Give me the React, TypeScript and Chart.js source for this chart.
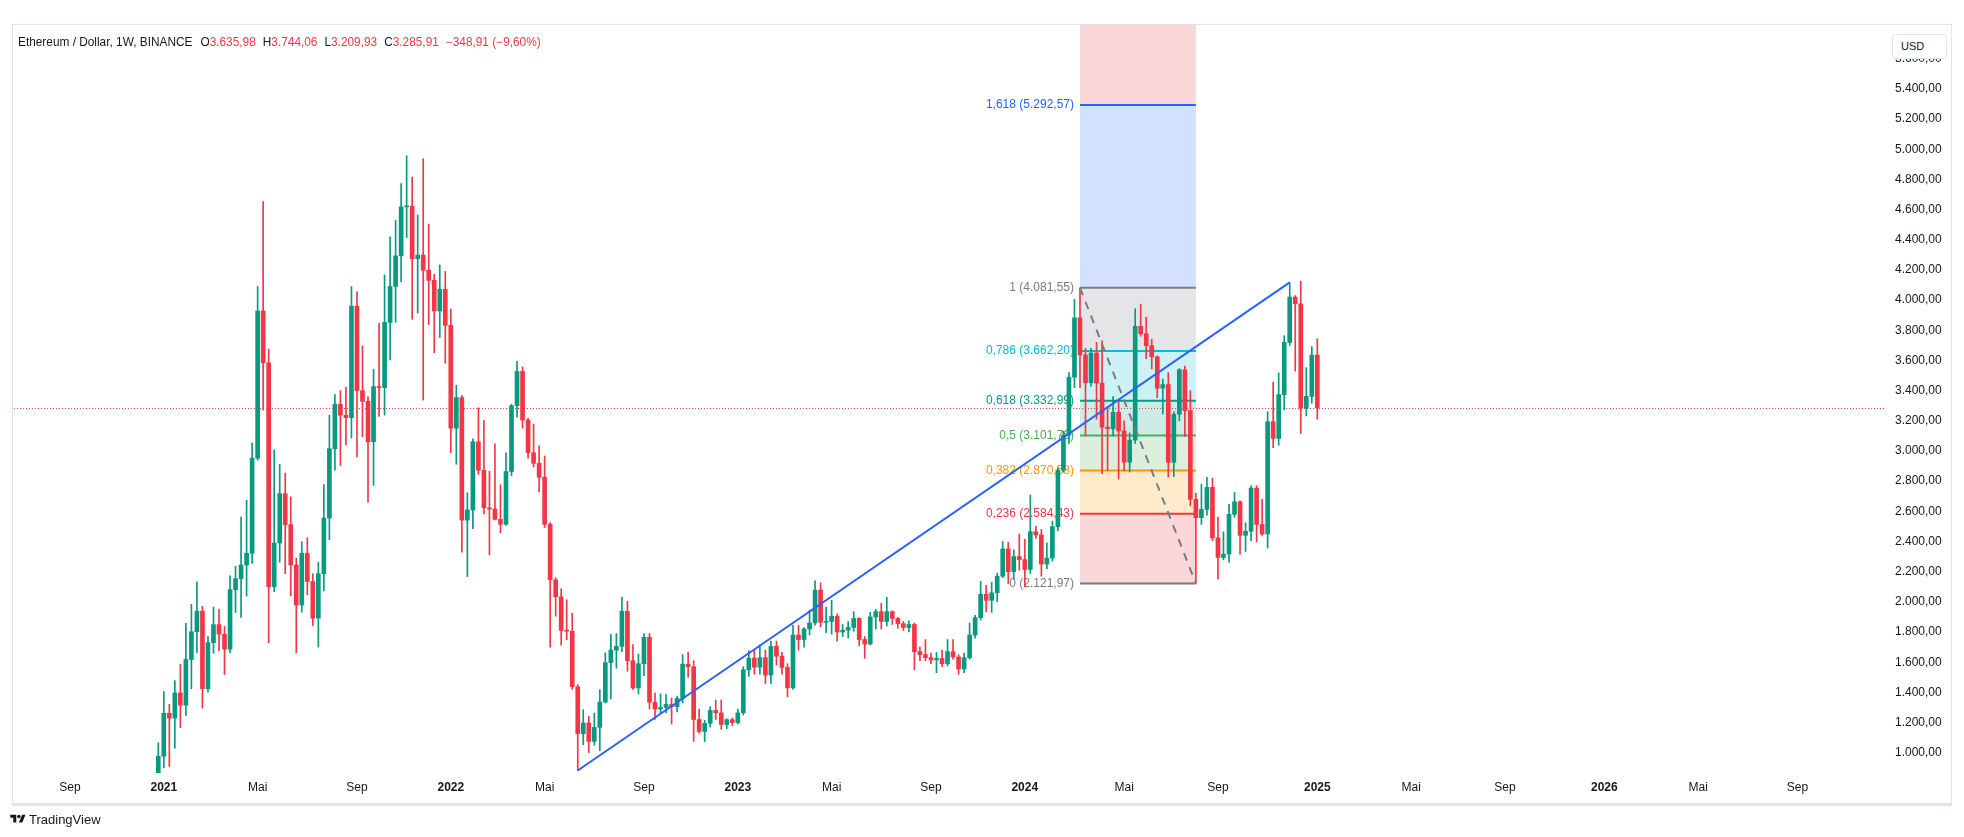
import React, { useEffect, useRef } from 'react';
import { Chart, registerables } from 'chart.js';

Chart.register(...registerables);

// ---------- DATA (weekly candles, Monday open dates) ----------
const weeks: string[] = [
  '2020-12-28',
  '2021-01-04','2021-01-11','2021-01-18','2021-01-25','2021-02-01','2021-02-08','2021-02-15','2021-02-22','2021-03-01','2021-03-08','2021-03-15','2021-03-22','2021-03-29',
  '2021-04-05','2021-04-12','2021-04-19','2021-04-26','2021-05-03','2021-05-10','2021-05-17','2021-05-24','2021-05-31','2021-06-07','2021-06-14','2021-06-21','2021-06-28',
  '2021-07-05','2021-07-12','2021-07-19','2021-07-26','2021-08-02','2021-08-09','2021-08-16','2021-08-23','2021-08-30','2021-09-06','2021-09-13','2021-09-20','2021-09-27',
  '2021-10-04','2021-10-11','2021-10-18','2021-10-25','2021-11-01','2021-11-08','2021-11-15','2021-11-22','2021-11-29','2021-12-06','2021-12-13','2021-12-20','2021-12-27',
  '2022-01-03','2022-01-10','2022-01-17','2022-01-24','2022-01-31','2022-02-07','2022-02-14','2022-02-21','2022-02-28','2022-03-07','2022-03-14','2022-03-21','2022-03-28',
  '2022-04-04','2022-04-11','2022-04-18','2022-04-25','2022-05-02','2022-05-09','2022-05-16','2022-05-23','2022-05-30','2022-06-06','2022-06-13','2022-06-20','2022-06-27',
  '2022-07-04','2022-07-11','2022-07-18','2022-07-25','2022-08-01','2022-08-08','2022-08-15','2022-08-22','2022-08-29','2022-09-05','2022-09-12','2022-09-19','2022-09-26',
  '2022-10-03','2022-10-10','2022-10-17','2022-10-24','2022-10-31','2022-11-07','2022-11-14','2022-11-21','2022-11-28','2022-12-05','2022-12-12','2022-12-19','2022-12-26',
  '2023-01-02','2023-01-09','2023-01-16','2023-01-23','2023-01-30','2023-02-06','2023-02-13','2023-02-20','2023-02-27','2023-03-06','2023-03-13','2023-03-20','2023-03-27',
  '2023-04-03','2023-04-10','2023-04-17','2023-04-24','2023-05-01','2023-05-08','2023-05-15','2023-05-22','2023-05-29','2023-06-05','2023-06-12','2023-06-19','2023-06-26',
  '2023-07-03','2023-07-10','2023-07-17','2023-07-24','2023-07-31','2023-08-07','2023-08-14','2023-08-21','2023-08-28','2023-09-04','2023-09-11','2023-09-18','2023-09-25',
  '2023-10-02','2023-10-09','2023-10-16','2023-10-23','2023-10-30','2023-11-06','2023-11-13','2023-11-20','2023-11-27','2023-12-04','2023-12-11','2023-12-18','2023-12-25',
  '2024-01-01','2024-01-08','2024-01-15','2024-01-22','2024-01-29','2024-02-05','2024-02-12','2024-02-19','2024-02-26','2024-03-04','2024-03-11','2024-03-18','2024-03-25',
  '2024-04-01','2024-04-08','2024-04-15','2024-04-22','2024-04-29','2024-05-06','2024-05-13','2024-05-20','2024-05-27','2024-06-03','2024-06-10','2024-06-17','2024-06-24',
  '2024-07-01','2024-07-08','2024-07-15','2024-07-22','2024-07-29','2024-08-05','2024-08-12','2024-08-19','2024-08-26','2024-09-02','2024-09-09','2024-09-16','2024-09-23',
  '2024-09-30','2024-10-07','2024-10-14','2024-10-21','2024-10-28','2024-11-04','2024-11-11','2024-11-18','2024-11-25','2024-12-02','2024-12-09','2024-12-16','2024-12-23','2024-12-30',
  '2025-01-06',
];

const opens: number[] = [
  730,
  977,1261,1229,1396,1315,1618,1802,1938,1424,1729,1849,1786,1686,
  2081,2154,2244,2322,2953,3928,3584,2100,2390,2717,2512,2244,1979,
  2322,2135,1892,2187,2555,3015,3310,3237,3221,3960,3400,3329,3061,
  3427,3420,3852,4090,4293,4618,4623,4274,4298,4198,4131,3928,4071,
  3833,3151,3354,2542,2609,3061,2872,2623,2615,2547,2514,2864,3300,
  3527,3205,2988,2918,2826,2514,2146,2033,1811,1805,1437,1126,1197,
  1075,1168,1336,1597,1680,1705,1937,1610,1429,1590,1765,1335,1290,
  1300,1320,1306,1360,1587,1570,1220,1141,1195,1280,1264,1187,1219,
  1200,1264,1550,1627,1567,1630,1515,1705,1640,1565,1430,1780,1750,
  1820,1860,2078,1865,1870,1905,1800,1812,1830,1890,1750,1720,1900,
  1935,1870,1935,1890,1855,1830,1850,1670,1650,1630,1615,1625,1590,
  1670,1635,1555,1630,1780,1895,2050,2010,2060,2170,2350,2200,2300,
  2280,2215,2465,2443,2250,2290,2498,2873,3105,3489,3882,3637,3452,
  3649,3450,3158,3147,3256,3133,2925,3072,3826,3777,3698,3624,3416,
  3440,2925,3244,3538,3268,2679,2558,2613,2759,2424,2294,2316,2580,
  2663,2441,2468,2754,2513,2450,3194,3083,3373,3719,4020,3975,3284,3362,
  3635.98,
];

const highs: number[] = [
  1066,
  1405,1321,1478,1586,1857,1984,2133,1970,1770,1965,1951,1838,2173,
  2236,2561,2674,3053,4090,4653,3676,3007,2912,2853,2696,2290,2398,
  2425,2187,2263,2777,3237,3373,3400,3421,4090,4055,3697,3359,3540,
  3846,4166,4420,4528,4772,4956,4815,4564,4937,4504,4171,4233,4190,
  3941,3435,3367,2723,3080,3286,3202,2866,3048,2777,2988,3310,3594,
  3557,3216,3178,3034,2967,2525,2160,2087,2014,1924,1451,1285,1241,
  1263,1418,1662,1785,1790,2030,2004,1716,1654,1790,1790,1396,1390,
  1385,1363,1375,1650,1665,1610,1290,1215,1305,1350,1350,1225,1230,
  1290,1570,1675,1680,1715,1680,1740,1740,1665,1590,1845,1845,1830,
  1945,2140,2125,1965,2010,1920,1850,1870,1935,1895,1770,1930,1950,
  1990,2030,1940,1895,1870,1875,1860,1700,1750,1660,1665,1680,1750,
  1750,1650,1660,1860,1910,2135,2110,2130,2190,2400,2395,2345,2450,
  2415,2708,2500,2480,2390,2535,2890,3130,3520,4005,4081.55,3680,3680,
  3720,3730,3280,3360,3330,3200,3120,3943,3973,3887,3740,3630,3477,
  3520,3260,3545,3563,3400,2720,2781,2826,2820,2562,2464,2647,2725,
  2670,2524,2770,2770,2680,3261,3456,3518,3764,4117,4030,4125,3552,3692,
  3744.06,
];

const lows: number[] = [
  715,
  900,909,1031,1166,1248,1424,1662,1296,1402,1659,1675,1518,1662,
  1930,1897,2038,2255,2939,3270,1729,2068,2263,2187,2041,1662,1932,
  2046,1843,1700,2073,2412,2872,2904,3040,3086,2961,3094,2661,2772,
  3229,3237,3603,3854,4122,4415,3873,3914,3337,3838,3651,3752,3581,
  2988,2912,2330,2168,2485,2845,2582,2311,2543,2458,2506,2837,3224,
  3151,2953,2893,2728,2493,1700,1905,1713,1748,1420,882,1053,1000,
  1049,1013,1330,1356,1560,1670,1540,1420,1389,1510,1290,1220,1265,
  1263,1190,1270,1330,1500,1075,1130,1073,1170,1220,1155,1160,1180,
  1190,1250,1505,1520,1520,1460,1460,1580,1520,1370,1420,1680,1700,
  1780,1845,1835,1795,1785,1740,1770,1760,1805,1710,1626,1715,1820,
  1820,1840,1850,1825,1810,1800,1550,1610,1610,1590,1530,1570,1575,
  1620,1520,1530,1620,1760,1880,1935,1930,2000,2160,2120,2150,2210,
  2100,2188,2420,2170,2220,2270,2470,2860,3050,3420,3420,3100,3430,
  3210,2850,2870,3100,2814,2870,2860,3050,3760,3612,3543,3354,3244,
  2827,2830,3200,3096,2635,2121.97,2513,2575,2406,2151,2278,2263,2560,
  2316,2334,2406,2397,2440,2356,3022,3038,3272,3700,3529,3116,3232,3317,
  3209.93,
];

const closes: number[] = [
  977,
  1261,1229,1396,1315,1618,1802,1938,1424,1729,1849,1786,1686,2081,
  2154,2244,2322,2953,3928,3584,2100,2390,2717,2512,2244,1979,2322,
  2135,1892,2187,2555,3015,3310,3237,3221,3960,3400,3329,3061,3427,
  3420,3852,4090,4293,4618,4623,4274,4298,4198,4131,3928,4071,3833,
  3151,3354,2542,2609,3061,2872,2623,2615,2547,2514,2864,3300,3527,
  3205,2988,2918,2826,2514,2146,2033,1811,1805,1437,1126,1197,1075,
  1168,1336,1597,1680,1705,1937,1610,1429,1590,1765,1335,1290,1300,
  1320,1306,1360,1587,1570,1220,1141,1195,1280,1264,1187,1219,1200,
  1264,1550,1627,1567,1630,1515,1705,1640,1565,1430,1780,1750,1820,
  1860,2078,1865,1870,1905,1800,1812,1830,1890,1750,1720,1900,1935,
  1870,1935,1890,1855,1830,1850,1670,1650,1630,1615,1625,1590,1670,
  1635,1555,1630,1780,1895,2050,2010,2060,2170,2350,2200,2300,2280,
  2215,2465,2443,2250,2290,2498,2873,3105,3489,3882,3637,3452,3649,
  3450,3158,3147,3256,3133,2925,3072,3826,3777,3698,3624,3416,3440,
  2925,3244,3538,3268,2679,2558,2613,2759,2424,2294,2316,2580,2663,
  2441,2468,2754,2513,2450,3194,3083,3373,3719,4020,3975,3284,3362,3634.82,
  3285.91,
];

// axis
const priceTicks: number[] = [1000,1200,1400,1600,1800,2000,2200,2400,2600,2800,3000,3200,3400,3600,3800,4000,4200,4400,4600,4800,5000,5200,5400,5600];
const priceMin = 865.6;
const priceMax = 5823.3;
const timeMin = '2020-06-28';
const timeMax = '2026-12-27';
const timeTickDates: string[] = ['2020-09-07','2021-01-04','2021-05-03','2021-09-06','2022-01-03','2022-05-02','2022-09-05','2023-01-02','2023-05-01','2023-09-04','2024-01-01','2024-05-06','2024-09-02','2025-01-06','2025-05-05','2025-09-01','2026-01-05','2026-05-04','2026-09-07'];
const timeTickLabels: string[] = ['Sep','2021','Mai','Sep','2022','Mai','Sep','2023','Mai','Sep','2024','Mai','Sep','2025','Mai','Sep','2026','Mai','Sep'];

// drawings
const fibStart = { date: '2024-03-11', price: 4081.55 };
const fibEnd = { date: '2024-08-05', price: 2121.97 };
const fibRatios: number[] = [2.618, 1.618, 1, 0.786, 0.618, 0.5, 0.382, 0.236, 0];
const fibPrices: number[] = [7252.08, 5292.57, 4081.55, 3662.20, 3332.99, 3101.76, 2870.58, 2584.43, 2121.97];
const fibColors: string[] = ['#F23645', '#2962FF', '#787B86', '#00BCD4', '#089981', '#4CAF50', '#FF9800', '#F23645', '#787B86'];
const trendStart = { date: '2022-06-13', price: 882 };
const trendEnd = { date: '2024-12-02', price: 4117 };

// ---------- helpers ----------
const UP = '#089981';
const DOWN = '#F23645';
const FONT = '"Liberation Sans", Arial, sans-serif';
const TEXT = '#131722';

const day = (s: string) => {
  const [y, m, d] = s.split('-').map(Number);
  return Date.UTC(y, m - 1, d) / 86400000;
};

const fmt = (v: number, dec = 2) => {
  const neg = v < 0;
  const s = Math.abs(v).toFixed(dec);
  const [i, f] = s.split('.');
  const ii = i.replace(/\B(?=(\d{3})+(?!\d))/g, '.');
  return (neg ? '\u2212' : '') + ii + (f !== undefined ? ',' + f : '');
};

const hexA = (hex: string, a: number) => {
  const n = parseInt(hex.slice(1), 16);
  return `rgba(${(n >> 16) & 255},${(n >> 8) & 255},${n & 255},${a})`;
};

const drawingsPlugin = {
  id: 'drawings',
  beforeDatasetsDraw(chart: any) {
    const { ctx, chartArea: a, scales } = chart;
    const x = scales.x;
    const y = scales.y;
    ctx.save();
    ctx.beginPath();
    ctx.rect(a.left, a.top, a.right - a.left, a.bottom - a.top);
    ctx.clip();

    // last price dotted line
    const last = closes[closes.length - 1];
    const py = Math.round(y.getPixelForValue(last)) + 0.5;
    ctx.strokeStyle = DOWN;
    ctx.lineWidth = 1;
    ctx.setLineDash([1, 2]);
    ctx.beginPath();
    ctx.moveTo(a.left, py);
    ctx.lineTo(a.right, py);
    ctx.stroke();
    ctx.setLineDash([]);

    // fib retracement
    const x1 = x.getPixelForValue(day(fibStart.date));
    const x2 = x.getPixelForValue(day(fibEnd.date));
    for (let i = 0; i < fibPrices.length - 1; i++) {
      const yTop = y.getPixelForValue(fibPrices[i]);
      const yBot = y.getPixelForValue(fibPrices[i + 1]);
      ctx.fillStyle = hexA(fibColors[i], 0.2);
      ctx.fillRect(x1, yTop, x2 - x1, yBot - yTop);
    }
    ctx.font = `12px ${FONT}`;
    ctx.textAlign = 'right';
    ctx.textBaseline = 'middle';
    for (let i = 0; i < fibPrices.length; i++) {
      const ly = y.getPixelForValue(fibPrices[i]);
      if (ly < a.top || ly > a.bottom) continue;
      ctx.strokeStyle = fibColors[i];
      ctx.lineWidth = 2;
      ctx.beginPath();
      ctx.moveTo(x1, ly);
      ctx.lineTo(x2, ly);
      ctx.stroke();
      ctx.fillStyle = fibColors[i];
      const rt = String(fibRatios[i]).replace('.', ',');
      ctx.fillText(`${rt} (${fmt(fibPrices[i])})`, x1 - 6, ly);
    }
    ctx.restore();
  },
  afterDatasetsDraw(chart: any) {
    const { ctx, chartArea: a, scales } = chart;
    const x = scales.x;
    const y = scales.y;
    ctx.save();
    ctx.beginPath();
    ctx.rect(a.left, a.top, a.right - a.left, a.bottom - a.top);
    ctx.clip();

    // fib dashed connector
    ctx.strokeStyle = '#787B86';
    ctx.lineWidth = 2;
    ctx.setLineDash([8, 7]);
    ctx.beginPath();
    ctx.moveTo(x.getPixelForValue(day(fibStart.date)), y.getPixelForValue(fibStart.price));
    ctx.lineTo(x.getPixelForValue(day(fibEnd.date)), y.getPixelForValue(fibEnd.price));
    ctx.stroke();
    ctx.setLineDash([]);

    // trend line
    ctx.strokeStyle = '#2962FF';
    ctx.lineWidth = 2;
    ctx.beginPath();
    ctx.moveTo(x.getPixelForValue(day(trendStart.date)), y.getPixelForValue(trendStart.price));
    ctx.lineTo(x.getPixelForValue(day(trendEnd.date)), y.getPixelForValue(trendEnd.price));
    ctx.stroke();
    ctx.restore();
  },
};

export default function App() {
  const ref = useRef<HTMLCanvasElement>(null);

  useEffect(() => {
    if (!ref.current) return;
    const colors = closes.map((c, i) => (c >= opens[i] ? UP : DOWN));
    const wickData = weeks.map((w, i) => ({ x: day(w), y: [lows[i], highs[i]] }));
    const bodyData = weeks.map((w, i) => ({ x: day(w), y: [opens[i], closes[i]] }));
    const chart = new Chart(ref.current, {
      type: 'bar',
      data: {
        datasets: [
          {
            label: 'wicks',
            data: wickData as any,
            backgroundColor: colors,
            borderWidth: 0,
            barThickness: 1,
            grouped: false,
            order: 2,
          } as any,
          {
            label: 'bodies',
            data: bodyData as any,
            backgroundColor: colors,
            borderWidth: 0,
            barThickness: 4,
            minBarLength: 1,
            grouped: false,
            order: 1,
          } as any,
        ],
      },
      options: {
        animation: false,
        responsive: false,
        devicePixelRatio: 1,
        layout: { padding: { left: 14, top: 25, right: 13, bottom: 34 } },
        plugins: { legend: { display: false }, tooltip: { enabled: false } },
        scales: {
          x: {
            type: 'linear',
            position: 'bottom',
            min: day(timeMin),
            max: day(timeMax),
            offset: false,
            grid: { display: false, drawTicks: false },
            border: { display: false },
            afterBuildTicks: (s: any) => {
              s.ticks = timeTickDates.map((d) => ({ value: day(d) }));
            },
            afterFit: (s: any) => {
              s.height = 30;
            },
            ticks: {
              autoSkip: false,
              maxRotation: 0,
              padding: 7,
              color: TEXT,
              font: (c: any) => ({
                family: FONT,
                size: 12,
                weight: /^\d{4}$/.test(timeTickLabels[c.index] || '') ? 'bold' : 'normal',
              }),
              callback: (_v: any, i: number) => timeTickLabels[i],
            },
          },
          y: {
            type: 'linear',
            position: 'right',
            min: priceMin,
            max: priceMax,
            grid: { display: false, drawTicks: false },
            border: { display: false },
            afterBuildTicks: (s: any) => {
              s.ticks = priceTicks.map((v) => ({ value: v }));
            },
            afterFit: (s: any) => {
              s.width = 66;
            },
            ticks: {
              padding: 10,
              color: TEXT,
              font: { family: FONT, size: 12 },
              callback: (v: any) => fmt(Number(v)),
            },
          },
        },
      } as any,
      plugins: [drawingsPlugin],
    });
    return () => chart.destroy();
  }, []);

  const n = closes.length;
  const O = opens[n - 1];
  const H = highs[n - 1];
  const L = lows[n - 1];
  const C = closes[n - 1];
  const chg = C - closes[n - 2];
  const pct = (chg / closes[n - 2]) * 100;

  return (
    <div
      style={{
        position: 'absolute',
        left: 0,
        top: 0,
        width: 1964,
        height: 837,
        background: '#ffffff',
        overflow: 'hidden',
        fontFamily: FONT,
      }}
    >
      <canvas ref={ref} width={1964} height={837} style={{ position: 'absolute', left: 0, top: 0 }} />
      <div
        style={{
          position: 'absolute',
          left: 12,
          top: 24,
          width: 1938,
          height: 778,
          borderTop: '1px solid #E0E3EB',
          borderLeft: '1px solid #E0E3EB',
          borderRight: '1px solid #E0E3EB',
          borderBottom: '3px solid #E0E3EB',
          pointerEvents: 'none',
        }}
      />
      <div
        style={{
          position: 'absolute',
          left: 18,
          top: 34,
          fontSize: 11.85,
          lineHeight: '16px',
          color: TEXT,
          whiteSpace: 'nowrap',
        }}
      >
        Ethereum / Dollar, 1W, BINANCE
        <span style={{ marginLeft: 8 }}>
          O<span style={{ color: DOWN }}>{fmt(O)}</span>
        </span>
        <span style={{ marginLeft: 7 }}>
          H<span style={{ color: DOWN }}>{fmt(H)}</span>
        </span>
        <span style={{ marginLeft: 7 }}>
          L<span style={{ color: DOWN }}>{fmt(L)}</span>
        </span>
        <span style={{ marginLeft: 7 }}>
          C<span style={{ color: DOWN }}>{fmt(C)}</span>
        </span>
        <span style={{ marginLeft: 7, color: DOWN }}>
          {fmt(chg)} ({fmt(pct)}%)
        </span>
      </div>
      <div
        style={{
          position: 'absolute',
          left: 1892,
          top: 34,
          width: 55,
          height: 25,
          boxSizing: 'border-box',
          border: '1px solid #E0E3EB',
          borderRadius: 4,
          background: '#ffffff',
          fontSize: 11,
          lineHeight: '23px',
          color: TEXT,
          paddingLeft: 8,
        }}
      >
        USD
      </div>
      <div
        style={{
          position: 'absolute',
          left: 10,
          top: 811,
          height: 16,
          display: 'flex',
          alignItems: 'center',
          fontSize: 13,
          color: TEXT,
        }}
      >
        <svg width="16" height="12" viewBox="0 0 36 28" style={{ marginRight: 3 }}>
          <path d="M14 22H7V11H0V4h14v18zM28 22h-8l7.5-18h8L28 22z" fill={TEXT} />
          <circle cx="20" cy="8" r="4" fill={TEXT} />
        </svg>
        TradingView
      </div>
    </div>
  );
}
